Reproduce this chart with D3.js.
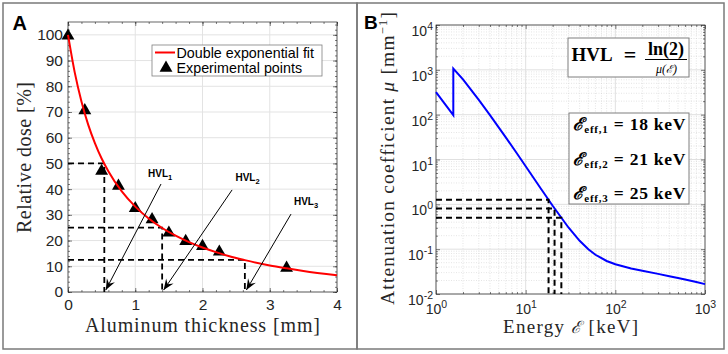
<!DOCTYPE html>
<html>
<head>
<meta charset="utf-8">
<script src="https://cdn.jsdelivr.net/npm/d3@7"></script>
<style>
  body { margin: 0; background: #fff; }
  svg { display: block; }
  .tick text { font-family: "Liberation Sans", Arial, sans-serif; fill: #262626; }
</style>
</head>
<body>
<div id="chart"></div>
<script>
// ---- panel A data ----
const thickness = [0, 0.25, 0.5, 0.75, 1, 1.25, 1.5, 1.75, 2, 2.25, 3.25];
const dose = [100, 71, 47.4, 41.6, 32.9, 28.6, 23.4, 20.1, 18.2, 16, 9.7];
const fitX = [0, 0.1, 0.2, 0.3, 0.4, 0.5, 0.6, 0.8, 1.0, 1.2, 1.4, 1.6, 1.8, 2.0, 2.2, 2.4, 2.63, 3.0, 3.25, 3.5, 4.0];
const fitY = [100, 85.4, 74.1, 65.1, 57.9, 51.9, 47.0, 39.1, 33.2, 28.6, 24.9, 21.9, 19.4, 17.3, 15.5, 13.9, 12.4, 10.3, 9.2, 8.2, 6.5];
const hvlX = [0.54, 1.4, 2.63];
const hvlY = [50, 25, 12.5];
const hvlNames = ["1", "2", "3"];
const xTicksA = [0, 1, 2, 3, 4];
const yTicksA = [0, 10, 20, 30, 40, 50, 60, 70, 80, 90, 100];

// ---- panel B data (aluminium, mm^-1) ----
const energy = [1, 1.5, 1.5596, 1.5596, 2, 3, 4, 5, 6, 8, 10, 15, 20, 30, 40, 50, 60, 80, 100, 150, 200, 300, 400, 500, 600, 800, 1000];
const mu = [319.8, 108.6, 97.7, 1068, 610.8, 212.7, 97.3, 52.2, 31.1, 13.58, 7.08, 2.147, 0.929, 0.3045, 0.1534, 0.0994, 0.075, 0.0545, 0.046, 0.0372, 0.033, 0.0281, 0.025, 0.0228, 0.0211, 0.0185, 0.0166];
const effEnergy = [18, 21, 25];
const effMu = [1.263, 0.812, 0.503];
const effNames = ["1", "2", "3"];
const xTicksB = [1, 10, 100, 1000];
const yTicksB = [1e-2, 1e-1, 1, 10, 100, 1000, 10000];

const W = 728, H = 354;
const sans = '"Liberation Sans", Arial, sans-serif';
const serif = '"Liberation Serif", "Times New Roman", serif';
const calE = '"DejaVu Serif", serif';

const svg = d3.select("#chart").append("svg")
    .attr("width", W).attr("height", H);
svg.append("rect").attr("width", W).attr("height", H).attr("fill", "#fff");

// panel frames
svg.append("rect").attr("x", 3).attr("y", 3).attr("width", 354).attr("height", 346)
    .attr("fill", "none").attr("stroke", "#7a7a7a").attr("stroke-width", 1.5);
svg.append("rect").attr("x", 357).attr("y", 3).attr("width", 367).attr("height", 346)
    .attr("fill", "none").attr("stroke", "#7a7a7a").attr("stroke-width", 1.5);

function arrowHead(g, x1, y1, x2, y2) {
    const a = Math.atan2(y2 - y1, x2 - x1);
    const L = 11, w = 4.5, n = 7;
    const p = (d, s) => [x2 - d * Math.cos(a) - s * Math.sin(a), y2 - d * Math.sin(a) + s * Math.cos(a)];
    const pts = [[x2, y2], p(L, w), p(n, 0), p(L, -w)];
    g.append("path").attr("d", "M" + pts.map(q => q.join(",")).join("L") + "Z").attr("fill", "#000");
}

// ================= Panel A =================
const xA = d3.scaleLinear().domain([0, 4]).range([68, 337]);
const yA = d3.scaleLinear().domain([0, 105]).range([292, 22]);
const gA = svg.append("g");

// grid
gA.selectAll(".gx").data(xTicksA).enter().append("line")
    .attr("x1", d => xA(d)).attr("x2", d => xA(d)).attr("y1", yA(0)).attr("y2", yA(105))
    .attr("stroke", "#e3e3e3");
gA.selectAll(".gy").data(yTicksA).enter().append("line")
    .attr("y1", d => yA(d)).attr("y2", d => yA(d)).attr("x1", xA(0)).attr("x2", xA(4))
    .attr("stroke", "#e3e3e3");

// axes ticks
const minorXA = d3.range(0, 4.01, 0.2);
const minorYA = d3.range(0, 105, 2);
gA.append("g").attr("transform", `translate(0,${yA(0)})`)
    .call(d3.axisBottom(xA).tickValues(xTicksA).tickSize(-4).tickPadding(7).tickFormat(d3.format("d")))
    .call(g => g.selectAll("text").style("font-size", "15.5px"));
gA.append("g").attr("transform", `translate(${xA(0)},0)`)
    .call(d3.axisLeft(yA).tickValues(yTicksA).tickSize(-4).tickPadding(5).tickFormat(d3.format("d")))
    .call(g => g.selectAll("text").style("font-size", "15.5px"));
gA.append("g").attr("transform", `translate(0,${yA(105)})`)
    .call(d3.axisTop(xA).tickValues(xTicksA).tickSize(-4).tickFormat(""));
gA.append("g").attr("transform", `translate(${xA(4)},0)`)
    .call(d3.axisRight(yA).tickValues(yTicksA).tickSize(-4).tickFormat(""));
[[d3.axisBottom, yA(0)], [d3.axisTop, yA(105)]].forEach(([ax, y]) =>
    gA.append("g").attr("transform", `translate(0,${y})`)
        .call(ax(xA).tickValues(minorXA).tickSize(-2).tickFormat("")));
[[d3.axisLeft, xA(0)], [d3.axisRight, xA(4)]].forEach(([ax, x]) =>
    gA.append("g").attr("transform", `translate(${x},0)`)
        .call(ax(yA).tickValues(minorYA).tickSize(-2).tickFormat("")));
gA.selectAll(".domain").remove();
gA.selectAll(".tick line").attr("stroke", "#262626").attr("stroke-width", 0.6);
gA.append("rect").attr("x", xA(0)).attr("y", yA(105))
    .attr("width", xA(4) - xA(0)).attr("height", yA(0) - yA(105))
    .attr("fill", "none").attr("stroke", "#262626").attr("stroke-width", 0.7);

// dashed HVL guides
hvlX.forEach((hx, i) => {
    gA.append("path")
        .attr("d", `M${xA(0)},${yA(hvlY[i])}H${xA(hx)}V${yA(0)}`)
        .attr("fill", "none").attr("stroke", "#000").attr("stroke-width", 1.8)
        .attr("stroke-dasharray", "6,4");
});

// markers
const tri = d3.symbol().type(d3.symbolTriangle).size(72);
gA.selectAll(".pt").data(thickness).enter().append("path")
    .attr("d", tri)
    .attr("transform", (d, i) => `translate(${xA(d)},${yA(dose[i]) + 1})`)
    .attr("fill", "#000");

// fit line
gA.append("path")
    .datum(fitX.map((x, i) => [x, fitY[i]]))
    .attr("d", d3.line().x(d => xA(d[0])).y(d => yA(d[1])).curve(d3.curveMonotoneX))
    .attr("fill", "none").attr("stroke", "#ff0000").attr("stroke-width", 2);

// HVL annotations (tail / label anchors in data units)
const hvlTail = [[1.383, 42.0], [2.44, 39.7], [3.316, 30.3]];
const hvlLabel = [[1.19, 44.6], [2.49, 43.2], [3.36, 33.8]];
hvlX.forEach((hx, i) => {
    const x1 = xA(hvlTail[i][0]), y1 = yA(hvlTail[i][1]);
    const x2 = xA(hx) + 1.5, y2 = yA(0) - 2;
    gA.append("line").attr("x1", x1).attr("y1", y1).attr("x2", x2).attr("y2", y2)
        .attr("stroke", "#000").attr("stroke-width", 1);
    arrowHead(gA, x1, y1, x2, y2);
    const t = gA.append("text").attr("x", xA(hvlLabel[i][0])).attr("y", yA(hvlLabel[i][1]))
        .attr("font-family", sans).attr("font-weight", "bold").attr("font-size", 10);
    t.append("tspan").text("HVL");
    t.append("tspan").attr("dy", 3).attr("font-size", 7.5).text(hvlNames[i]);
});

// legend
const lg = gA.append("g");
lg.append("rect").attr("x", 152).attr("y", 45).attr("width", 170).attr("height", 31)
    .attr("fill", "#fff").attr("stroke", "#7f7f7f").attr("stroke-width", 0.8);
lg.append("line").attr("x1", 155).attr("x2", 175).attr("y1", 52.5).attr("y2", 52.5)
    .attr("stroke", "#ff0000").attr("stroke-width", 2);
lg.append("path").attr("d", tri).attr("transform", "translate(166,68)").attr("fill", "#000");
lg.append("text").attr("x", 176.5).attr("y", 57.5).attr("font-family", sans).attr("font-size", 14.3)
    .attr("fill", "#000").text("Double exponential fit");
lg.append("text").attr("x", 176.5).attr("y", 73).attr("font-family", sans).attr("font-size", 14.3)
    .attr("fill", "#000").text("Experimental points");

// axis labels
gA.append("text").attr("x", 202.5).attr("y", 332).attr("text-anchor", "middle")
    .attr("font-family", serif).attr("font-size", 20).attr("fill", "#262626")
    .attr("textLength", 235).attr("lengthAdjust", "spacing")
    .text("Aluminum thickness [mm]");
gA.append("text").attr("transform", "translate(31,157.5) rotate(-90)").attr("text-anchor", "middle")
    .attr("font-family", serif).attr("font-size", 20).attr("fill", "#262626")
    .attr("textLength", 151).attr("lengthAdjust", "spacing")
    .text("Relative dose [%]");
svg.append("text").attr("x", 12.5).attr("y", 30).attr("font-family", sans)
    .attr("font-weight", "bold").attr("font-size", 20).text("A");

// ================= Panel B =================
const xB = d3.scaleLog().domain([1, 1000]).range([436, 705]);
const yB = d3.scaleLog().domain([1e-2, 1e4]).range([294, 25]);
const gB = svg.append("g");

const minorX = [], minorY = [];
for (let e = 0; e < 3; e++) for (let k = 2; k <= 9; k++) minorX.push(k * Math.pow(10, e));
for (let e = -2; e < 4; e++) for (let k = 2; k <= 9; k++) minorY.push(k * Math.pow(10, e));

gB.selectAll(".mx").data(minorX).enter().append("line")
    .attr("x1", d => xB(d)).attr("x2", d => xB(d)).attr("y1", yB(1e-2)).attr("y2", yB(1e4))
    .attr("stroke", "#d4d4d4").attr("stroke-width", 0.6).attr("stroke-dasharray", "1,1.5");
gB.selectAll(".my").data(minorY).enter().append("line")
    .attr("y1", d => yB(d)).attr("y2", d => yB(d)).attr("x1", xB(1)).attr("x2", xB(1000))
    .attr("stroke", "#d4d4d4").attr("stroke-width", 0.6).attr("stroke-dasharray", "1,1.5");
gB.selectAll(".gx").data(xTicksB).enter().append("line")
    .attr("x1", d => xB(d)).attr("x2", d => xB(d)).attr("y1", yB(1e-2)).attr("y2", yB(1e4))
    .attr("stroke", "#e0e0e0");
gB.selectAll(".gy").data(yTicksB).enter().append("line")
    .attr("y1", d => yB(d)).attr("y2", d => yB(d)).attr("x1", xB(1)).attr("x2", xB(1000))
    .attr("stroke", "#e0e0e0");

function powLabel(sel, anchor) {
    sel.each(function (d) {
        const t = d3.select(this).text("").attr("text-anchor", anchor).style("font-size", "14px");
        t.append("tspan").text("10");
        t.append("tspan").attr("dy", -6).style("font-size", "10.5px").text(Math.round(Math.log10(d)));
    });
}
gB.append("g").attr("transform", `translate(0,${yB(1e-2)})`)
    .call(d3.axisBottom(xB).tickValues(xTicksB).tickSize(-4).tickPadding(10))
    .call(g => powLabel(g.selectAll("text"), "middle"));
gB.append("g").attr("transform", `translate(${xB(1)},0)`)
    .call(d3.axisLeft(yB).tickValues(yTicksB).tickSize(-4).tickPadding(3))
    .call(g => g.selectAll("text").attr("dy", "0.75em"))
    .call(g => powLabel(g.selectAll("text"), "end"));
gB.append("g").attr("transform", `translate(0,${yB(1e4)})`)
    .call(d3.axisTop(xB).tickValues(xTicksB).tickSize(-4).tickFormat(""));
gB.append("g").attr("transform", `translate(${xB(1000)},0)`)
    .call(d3.axisRight(yB).tickValues(yTicksB).tickSize(-4).tickFormat(""));
[[d3.axisBottom, yB(1e-2)], [d3.axisTop, yB(1e4)]].forEach(([ax, y]) =>
    gB.append("g").attr("transform", `translate(0,${y})`)
        .call(ax(xB).tickValues(minorX).tickSize(-2).tickFormat("")));
[[d3.axisLeft, xB(1)], [d3.axisRight, xB(1000)]].forEach(([ax, x]) =>
    gB.append("g").attr("transform", `translate(${x},0)`)
        .call(ax(yB).tickValues(minorY).tickSize(-2).tickFormat("")));
gB.selectAll(".domain").remove();
gB.selectAll(".tick line").attr("stroke", "#262626").attr("stroke-width", 0.6);
gB.append("rect").attr("x", xB(1)).attr("y", yB(1e4))
    .attr("width", xB(1000) - xB(1)).attr("height", yB(1e-2) - yB(1e4))
    .attr("fill", "none").attr("stroke", "#262626").attr("stroke-width", 0.7);

// attenuation curve
gB.append("path")
    .datum(energy.map((e, i) => [e, mu[i]]))
    .attr("d", d3.line().x(d => xB(d[0])).y(d => yB(d[1])))
    .attr("fill", "none").attr("stroke", "#0000ff").attr("stroke-width", 2);

// dashed effective-energy guides
effEnergy.forEach((e, i) => {
    gB.append("path")
        .attr("d", `M${xB(1)},${yB(effMu[i])}H${xB(e)}V${yB(1e-2)}`)
        .attr("fill", "none").attr("stroke", "#000").attr("stroke-width", 2)
        .attr("stroke-dasharray", "6,4");
});

// HVL formula box
gB.append("rect").attr("x", 568).attr("y", 38).attr("width", 121).attr("height", 39)
    .attr("fill", "#fff").attr("stroke", "#7f7f7f").attr("stroke-width", 1);
gB.append("text").attr("x", 571.5).attr("y", 61).attr("font-family", serif).attr("font-weight", "bold")
    .attr("font-size", 18.5).attr("textLength", 41).attr("lengthAdjust", "spacingAndGlyphs").text("HVL");
gB.append("text").attr("x", 630).attr("y", 61.5).attr("text-anchor", "middle").attr("font-family", serif)
    .attr("font-weight", "bold").attr("font-size", 22).text("=");
gB.append("text").attr("x", 666).attr("y", 55).attr("text-anchor", "middle").attr("font-family", serif)
    .attr("font-weight", "bold").attr("font-size", 18).text("ln(2)");
gB.append("line").attr("x1", 645).attr("x2", 687).attr("y1", 59.5).attr("y2", 59.5)
    .attr("stroke", "#000").attr("stroke-width", 1.1);
const den = gB.append("text").attr("x", 666.5).attr("y", 72.5).attr("text-anchor", "middle")
    .attr("font-family", serif).attr("font-style", "italic").attr("font-size", 12);
den.append("tspan").text("μ(");
den.append("tspan").attr("font-family", calE).attr("font-size", 11).text("ℰ");
den.append("tspan").text(")");

// effective energies box
gB.append("rect").attr("x", 569).attr("y", 113).attr("width", 120).attr("height", 91)
    .attr("fill", "#fff").attr("stroke", "#7f7f7f").attr("stroke-width", 1);
const effBase = [130, 165, 198.5];
effEnergy.forEach((e, i) => {
    const t = gB.append("text").attr("x", 572.5).attr("y", effBase[i]).attr("font-family", serif)
        .attr("font-weight", "bold").attr("font-size", 17.5)
        .attr("textLength", 113).attr("lengthAdjust", "spacing");
    t.append("tspan").attr("font-family", calE).attr("font-style", "italic").text("ℰ");
    t.append("tspan").attr("dy", 3).attr("font-size", 11).text("eff," + effNames[i]);
    t.append("tspan").attr("dy", -3).text(" = " + e + " keV");
});

// axis labels
const xl = gB.append("text").attr("x", 570.5).attr("y", 333).attr("text-anchor", "middle")
    .attr("font-family", serif).attr("font-size", 19).attr("fill", "#262626")
    .attr("textLength", 135).attr("lengthAdjust", "spacing");
xl.append("tspan").text("Energy ");
xl.append("tspan").attr("font-family", calE).attr("font-style", "italic").attr("font-size", 17).text("ℰ");
xl.append("tspan").text(" [keV]");

const yl = gB.append("text").attr("transform", "translate(394,158.5) rotate(-90)").attr("text-anchor", "middle")
    .attr("font-family", serif).attr("font-size", 19.5).attr("fill", "#262626")
    .attr("textLength", 293).attr("lengthAdjust", "spacing");
yl.append("tspan").text("Attenuation coefficient ");
yl.append("tspan").attr("font-style", "italic").text("μ");
yl.append("tspan").text(" [mm");
yl.append("tspan").attr("dy", -7).attr("font-size", 12.5).text("−1");
yl.append("tspan").attr("dy", 7).text("]");

svg.append("text").attr("x", 364).attr("y", 28.5).attr("font-family", sans)
    .attr("font-weight", "bold").attr("font-size", 19).text("B");
</script>
</body>
</html>
